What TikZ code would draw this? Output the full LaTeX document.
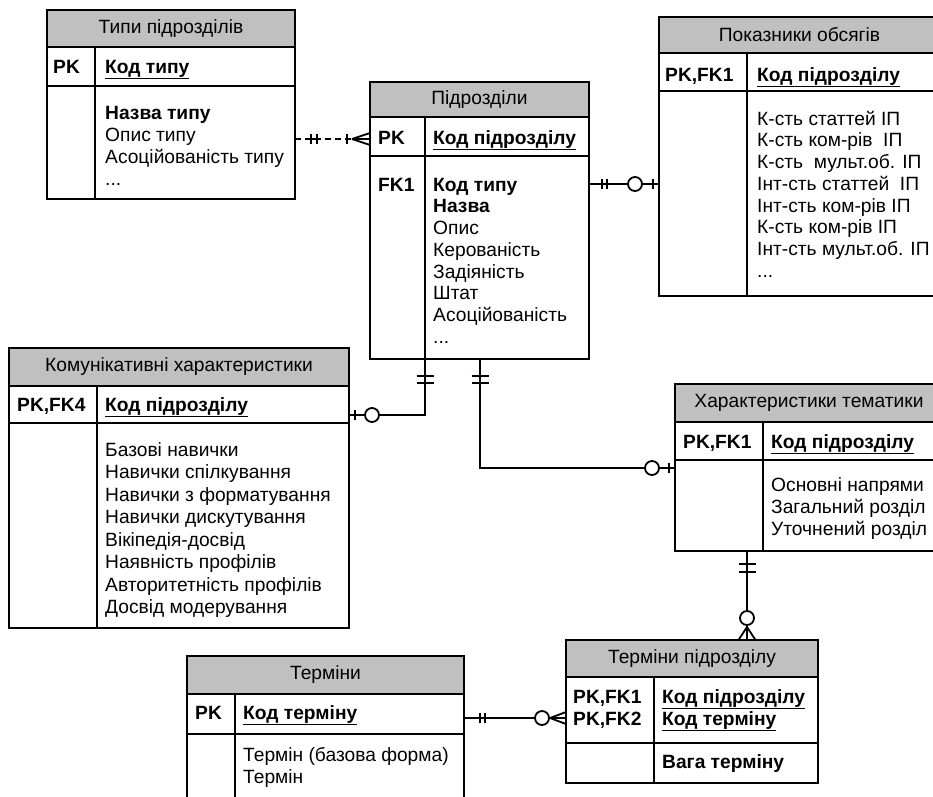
\documentclass[tikz,border=0pt]{standalone}
\usepackage{fontspec}
\setmainfont{Liberation Sans}
\usetikzlibrary{calc}
\definecolor{hdrgray}{RGB}{192,192,192}
\newcommand\ertop{\rule{0pt}{20pt}}
\tikzset{
  tbl/.style={draw, line width=1.3pt, anchor=north west, inner sep=0pt, outer sep=0pt},
  hdr/.style={draw, fill=hdrgray, line width=1.3pt, anchor=north west, inner sep=0pt, outer sep=0pt, font=\fontsize{19.2}{22}\selectfont},
  sep/.style={line width=1.3pt},
  lbl/.style={anchor=base west, inner sep=0pt, font=\fontsize{19.2}{22}\selectfont},
  body/.style={anchor=north west, inner sep=0pt, align=left, font=\fontsize{19.2}{#1}\selectfont},
  body/.default=22,
  rel/.style={line width=2pt},
  reld/.style={line width=1.6pt, dash pattern=on 6pt off 4pt},
  tick/.style={line width=1.8pt},
  ring/.style={line width=1.8pt, fill=white},
}
\begin{document}
\begin{tikzpicture}[x=1pt,y=-1pt]
\clip (0,0) rectangle (933,796);
\fill[white] (0,0) rectangle (933,796);

% ---------- Типи підрозділів ----------
\node[tbl, minimum width=248pt, minimum height=189pt] (tipy) at (47,10) {};
\node[hdr, minimum width=248pt, minimum height=37pt] (tipyH) at (47,10) {Типи підрозділів};
\draw[sep] (47,86) -- (295,86);
\draw[sep] (95,47) -- (95,199);
\node[lbl] (tipyK) at (53,73) {\textbf{PK}};
\node[lbl] (tipyKn) at (105,73) {\textbf{\underline{Код типу}}};
\node[body] (tipyB) at (105,99) {\ertop\textbf{Назва типу}\\Опис типу\\Асоційованість типу\\...};

% ---------- Підрозділи ----------
\node[tbl, minimum width=219pt, minimum height=277pt] (pidr) at (370,82) {};
\node[hdr, minimum width=219pt, minimum height=35pt] (pidrH) at (370,82) {Підрозділи};
\draw[sep] (370,156) -- (589,156);
\draw[sep] (425,117) -- (425,359);
\node[lbl] (pidrK) at (378,144) {\textbf{PK}};
\node[lbl] (pidrKn) at (433,144) {\textbf{\underline{Код підрозділу}}};
\node[body=21.7] (pidrF) at (378,171) {\ertop\textbf{FK1}};
\node[body=21.7] (pidrB) at (433,171) {\ertop\textbf{Код типу}\\\textbf{Назва}\\Опис\\Керованість\\Задіяність\\Штат\\Асоційованість\\...};

% ---------- Показники обсягів ----------
\node[tbl, minimum width=281pt, minimum height=279pt] (pokaz) at (659,17) {};
\node[hdr, minimum width=281pt, minimum height=36pt] (pokazH) at (659,17) {Показники обсягів};
\draw[sep] (659,91) -- (940,91);
\draw[sep] (747,53) -- (747,296);
\node[lbl] (pokazK) at (665,81) {\textbf{PK,FK1}};
\node[lbl] (pokazKn) at (757,81) {\textbf{\underline{Код підрозділу}}};
\node[body=21.7] (pokazB) at (757,105) {\ertop К-сть статтей ІП\\К-сть ком-рів\ \ ІП\\К-сть\ \ мульт.об. ІП\\Інт-сть статтей\ \ ІП\\Інт-сть ком-рів ІП\\К-сть ком-рів ІП\\Інт-сть мульт.об. ІП\\...};

% ---------- Комунікативні характеристики ----------
\node[tbl, minimum width=340pt, minimum height=280pt] (komun) at (9,348) {};
\node[hdr, minimum width=340pt, minimum height=38pt] (komunH) at (9,348) {Комунікативні характеристики};
\draw[sep] (9,423) -- (349,423);
\draw[sep] (97,386) -- (97,628);
\node[lbl] (komunK) at (17,411) {\textbf{PK,FK4}};
\node[lbl] (komunKn) at (105,411) {\textbf{\underline{Код підрозділу}}};
\node[body=22.5] (komunB) at (105,436) {\ertop Базові навички\\Навички спілкування\\Навички з форматування\\Навички дискутування\\Вікіпедія-досвід\\Наявність профілів\\Авторитетність профілів\\Досвід модерування};

% ---------- Характеристики тематики ----------
\node[tbl, minimum width=268pt, minimum height=167pt] (temat) at (675,384) {};
\node[hdr, minimum width=268pt, minimum height=38pt] (tematH) at (675,384) {Характеристики тематики};
\draw[sep] (675,460) -- (943,460);
\draw[sep] (763,422) -- (763,551);
\node[lbl] (tematK) at (683,448) {\textbf{PK,FK1}};
\node[lbl] (tematKn) at (771,448) {\textbf{\underline{Код підрозділу}}};
\node[body] (tematB) at (771,471) {\ertop Основні напрями\\Загальний розділ\\Уточнений розділ};

% ---------- Терміни ----------
\node[tbl, minimum width=277pt, minimum height=174pt] (termin) at (187,656) {};
\node[hdr, minimum width=277pt, minimum height=38pt] (terminH) at (187,656) {Терміни};
\draw[sep] (187,734) -- (464,734);
\draw[sep] (235,694) -- (235,830);
\node[lbl] (terminK) at (195,719) {\textbf{PK}};
\node[lbl] (terminKn) at (243,719) {\textbf{\underline{Код терміну}}};
\node[body] (terminB) at (243,741) {\ertop Термін (базова форма)\\Термін};

% ---------- Терміни підрозділу ----------
\node[tbl, minimum width=252pt, minimum height=143pt] (tpidr) at (566,640) {};
\node[hdr, minimum width=252pt, minimum height=37pt] (tpidrH) at (566,640) {Терміни підрозділу};
\draw[sep] (566,743) -- (818,743);
\draw[sep] (654,677) -- (654,783);
\node[body] (tpidrK) at (573,683) {\ertop\textbf{PK,FK1}\\\textbf{PK,FK2}};
\node[body] (tpidrKn) at (662,683) {\ertop\textbf{\underline{Код підрозділу}}\\\textbf{\underline{Код терміну}}};
\node[lbl] (tpidrB) at (662,768) {\textbf{Вага терміну}};

% ---------- Connectors ----------
% 1: Типи -> Підрозділи (dashed, one-and-only-one to one-or-many)
\coordinate (c1a) at ([yshift=-129pt]tipy.north east);
\coordinate (c1b) at ([yshift=-57pt]pidr.north west);
\draw[reld] (c1a) -- ($(c1b)+(-18,0)$);
\draw[tick] (c1a) ++(16,0) -- ++(6,0);
\draw[tick] (c1a) ++(16,-5) -- ++(0,10);
\draw[tick] (c1a) ++(22,-5) -- ++(0,10);
\draw[tick] (c1b) ++(-23,-5) -- ++(0,10);
\draw[tick] (c1b) ++(-18,0) -- ++(18,-6);
\draw[tick] (c1b) ++(-18,0) -- ++(18,6);
\draw[tick] (c1b) ++(-18,0) -- (c1b);

% 2: Підрозділи -> Показники обсягів
\coordinate (c2a) at ([yshift=-102pt]pidr.north east);
\coordinate (c2b) at ([yshift=-167pt]pokaz.north west);
\draw[rel] (c2a) -- (c2b);
\draw[tick] (c2a) ++(13,-5) -- ++(0,10);
\draw[tick] (c2a) ++(18,-5) -- ++(0,10);
\draw[ring] (c2b) ++(-24,0) circle (7);
\draw[tick] (c2b) ++(-6,-5) -- ++(0,10);

% 3: Підрозділи -> Комунікативні характеристики
\coordinate (c3a) at ([xshift=55pt]pidr.south west);
\coordinate (c3b) at ([yshift=-67pt]komun.north east);
\draw[rel] (c3a) |- (c3b);
\draw[tick] (c3a) ++(-8.5,17) -- ++(17,0);
\draw[tick] (c3a) ++(-8.5,24) -- ++(17,0);
\draw[ring] (c3b) ++(23,0) circle (7);
\draw[tick] (c3b) ++(6,-5) -- ++(0,10);

% 4: Підрозділи -> Характеристики тематики
\coordinate (c4a) at ([xshift=110pt]pidr.south west);
\coordinate (c4b) at ([yshift=-84pt]temat.north west);
\draw[rel] (c4a) |- (c4b);
\draw[tick] (c4a) ++(-8.5,17) -- ++(17,0);
\draw[tick] (c4a) ++(-8.5,24) -- ++(17,0);
\draw[ring] (c4b) ++(-23,0) circle (7);
\draw[tick] (c4b) ++(-6,-5) -- ++(0,10);

% 5: Характеристики тематики -> Терміни підрозділу
\coordinate (c5a) at ([xshift=72pt]temat.south west);
\coordinate (c5b) at ([xshift=181pt]tpidr.north west);
\draw[rel] (c5a) -- (c5b);
\draw[tick] (c5a) ++(-8.5,13) -- ++(17,0);
\draw[tick] (c5a) ++(-8.5,21) -- ++(17,0);
\draw[ring] (c5b) ++(0,-22) circle (7);
\draw[tick] (c5b) ++(0,-13) -- ++(-8.5,13);
\draw[tick] (c5b) ++(0,-13) -- ++(8.5,13);

% 6: Терміни -> Терміни підрозділу
\coordinate (c6a) at ([yshift=-62pt]termin.north east);
\coordinate (c6b) at ([yshift=-78pt]tpidr.north west);
\draw[rel] (c6a) -- (c6b);
\draw[tick] (c6a) ++(16,-5) -- ++(0,10);
\draw[tick] (c6a) ++(21,-5) -- ++(0,10);
\draw[ring] (c6b) ++(-24,0) circle (7);
\draw[tick] (c6b) ++(-16,0) -- ++(16,-6);
\draw[tick] (c6b) ++(-16,0) -- ++(16,6);
\end{tikzpicture}
\end{document}
